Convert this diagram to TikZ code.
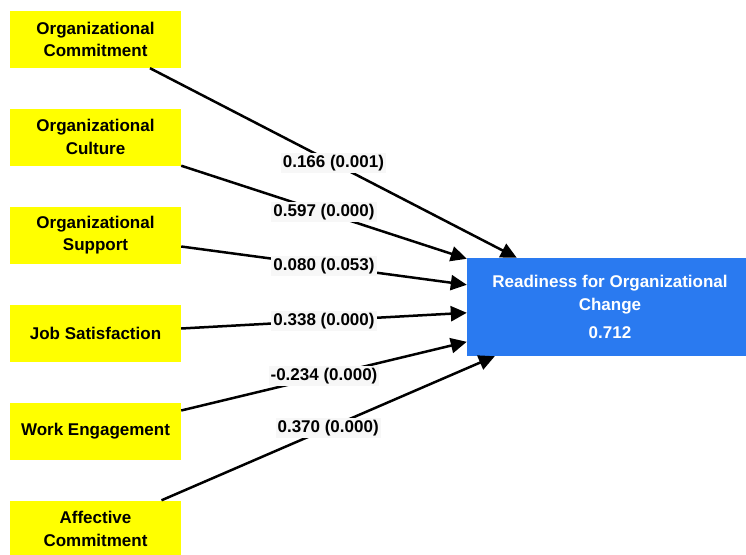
\documentclass[tikz,border=0pt]{standalone}
\usepackage{fontspec}
\setmainfont{Liberation Sans}
\usetikzlibrary{arrows.meta,calc}
\definecolor{ybox}{RGB}{255,255,0}
\definecolor{bbox}{RGB}{42,122,240}
\definecolor{lblbg}{RGB}{247,247,247}
\begin{document}
\begin{tikzpicture}[x=1pt,y=-1pt,
  factor/.style={fill=ybox, minimum width=171pt, minimum height=57pt, inner sep=0pt,
    align=center, text=black, font=\bfseries\fontsize{17}{22.5}\selectfont},
  target/.style={fill=bbox, minimum width=286pt, minimum height=98pt, inner sep=0pt,
    align=center, text=white, font=\bfseries\fontsize{17}{23}\selectfont},
  link/.style={line width=2.5pt, -{Triangle[length=16pt,width=15pt]}},
  coef/.style={fill=lblbg, inner sep=2pt, text=black, font=\bfseries\fontsize{17}{19}\selectfont}]
\path[use as bounding box] (0,0) rectangle (746,554);
\clip (0,0) rectangle (746,554);
\fill[white] (0,0) rectangle (746,554);

\node[factor] (b1) at (95.5,39.5) {Organizational\\Commitment};
\node[factor] (b2) at (95.5,137) {Organizational\\Culture};
\node[factor] (b3) at (95.5,235) {Organizational\\Support};
\node[factor] (b4) at (95.5,333) {Job Satisfaction};
\node[factor] (b5) at (95.5,431) {Work Engagement};
\node[factor] (b6) at (95.5,529) {Affective\\Commitment};

\node[target] (R) at (610,307) {Readiness for Organizational\\Change\\[5pt]0.712};

\coordinate (s1) at ($(b1.south)+(54.5,0)$);
\coordinate (s2) at (b2.south east);
\coordinate (s3) at ($(b3.east)+(0,11.5)$);
\coordinate (s4) at ($(b4.east)+(0,-4.5)$);
\coordinate (s5) at ($(b5.east)+(0,-20.5)$);
\coordinate (s6) at ($(b6.north)+(66,0)$);

\coordinate (e1) at ($(R.north west)+(50,0)$);
\coordinate (e2) at ($(R.north west)+(0,1)$);
\coordinate (e3) at ($(R.north west)+(0,27)$);
\coordinate (e4) at ($(R.north west)+(0,55)$);
\coordinate (e5) at ($(R.north west)+(0,84)$);
\coordinate (e6) at ($(R.south west)+(28,0)$);

\draw[link] (s1) -- node[coef] {0.166 (0.001)} (e1);
\draw[link] (s2) -- node[coef] {0.597 (0.000)} (e2);
\draw[link] (s3) -- node[coef] {0.080 (0.053)} (e3);
\draw[link] (s4) -- node[coef] {0.338 (0.000)} (e4);
\draw[link] (s5) -- node[coef] {-0.234 (0.000)} (e5);
\draw[link] (s6) -- node[coef] {0.370 (0.000)} (e6);
\end{tikzpicture}
\end{document}
